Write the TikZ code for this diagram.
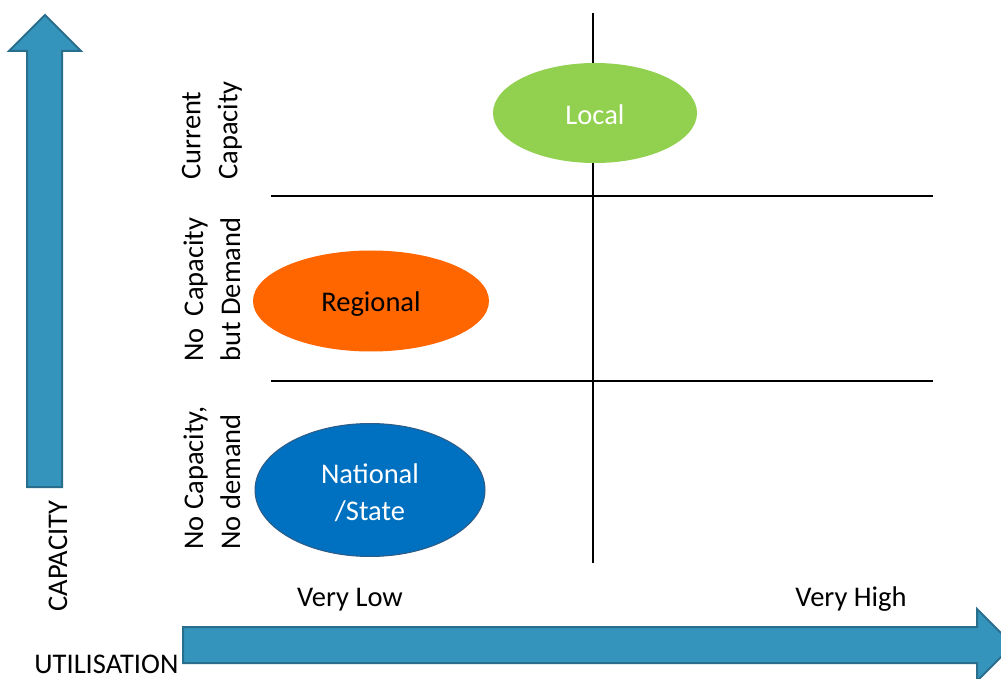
\documentclass[tikz,border=0pt]{standalone}
\usepackage{fontspec}
\usepackage{calc}
\setmainfont{Carlito}
\usetikzlibrary{shapes.geometric}
\definecolor{arrowfill}{HTML}{3594BB}
\definecolor{arrowline}{HTML}{2A6E8D}
\definecolor{localgreen}{HTML}{92D050}
\definecolor{regorange}{HTML}{FF6600}
\definecolor{natblue}{HTML}{0070C0}
\definecolor{natline}{HTML}{2F5C85}
\begin{document}
\begin{tikzpicture}[x=0.5pt,y=-0.5pt,
  txt/.style={font=\fontsize{14.25}{18.5}\selectfont, inner sep=0pt},
  axisarrow/.style={fill=arrowfill, draw=arrowline, line width=1pt, line join=miter},
  grid/.style={draw=black, line width=1pt},
  blob/.style={ellipse, inner sep=0pt, font=\fontsize{14.25}{18.5}\selectfont, align=center}]
\useasboundingbox[fill=white] (0,0) rectangle (1001,679);
% axis arrows
\draw[axisarrow] (27,487) -- (27,51) -- (9,51) -- (45,15) -- (81,51) -- (62,51) -- (62,487) -- cycle;
\draw[axisarrow] (183,627) -- (977,627) -- (977,609) -- (1013,645) -- (977,681) -- (977,663) -- (183,663) -- cycle;
% grid lines
\coordinate (vt) at (593,13);
\coordinate (vb) at (593,563);
\coordinate (h1l) at (271,196);
\coordinate (h1r) at (933,196);
\coordinate (h2l) at (271,381);
\coordinate (h2r) at (933,381);
\draw[grid] (vt) -- (vb);
\draw[grid] (h1l) -- (h1r);
\draw[grid] (h2l) -- (h2r);
% ellipses
\node[blob, fill=localgreen, text=white, minimum width=102pt, minimum height=50pt] (local) at (595,113) {\raisebox{-0.7pt}[\height][\depth]{Local}};
\node[blob, fill=regorange, text=black, minimum width=118pt, minimum height=50.5pt] (regional) at (371,301) {\raisebox{-1.5pt}[\height][\depth]{Regional}};
\node[blob, fill=natblue, draw=natline, line width=0.5pt, text=white, minimum width=115pt, minimum height=66.5pt] (national) at (370,490) {\raisebox{-2.5pt}[\height][\depth]{\begin{tabular}{@{}c@{}}National\\/State\end{tabular}}};
% row labels
\node[txt, rotate=90, anchor=west, align=left] (rowtop) at (212,180) {Current\\Capacity};
\node[txt, rotate=90, anchor=west, align=left] (rowmid) at (212,362) {\makebox[\widthof{but Demand}][s]{No\hfill Capacity}\\but Demand};
\node[txt, rotate=90, anchor=west, align=left] (rowbot) at (212,550) {No Capacity,\\No demand};
% axis labels
\node[txt, anchor=base] (vlow) at (350,606) {Very Low};
\node[txt, anchor=base] (vhigh) at (851,606) {Very High};
\node[txt, rotate=90, anchor=base west] (caplab) at (67,612) {CAPACITY};
\node[txt, anchor=base west] (utillab) at (34,673) {UTILISATION};
\end{tikzpicture}
\end{document}
